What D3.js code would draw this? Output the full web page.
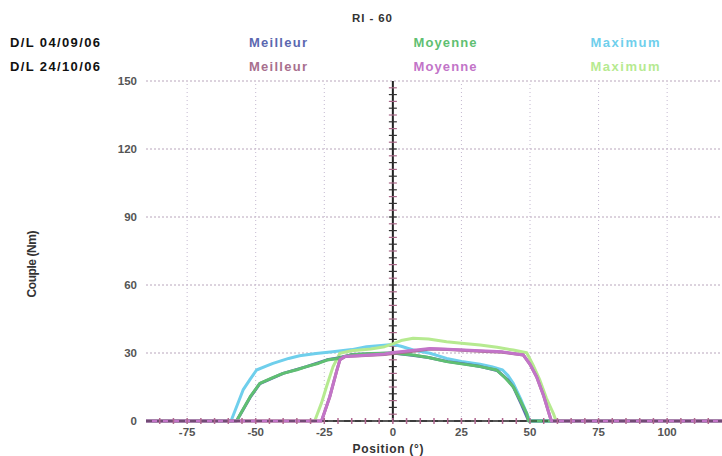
<!DOCTYPE html>
<html><head><meta charset="utf-8">
<script src="https://cdn.jsdelivr.net/npm/d3@7/dist/d3.min.js"></script>
<style>body{margin:0;background:#fff}svg{font-family:"Liberation Sans",Arial,sans-serif;font-weight:bold}</style>
</head><body><svg id="c" width="722" height="456"></svg>
<script>
const title = "RI - 60";
const sessions = ["D/L 04/09/06", "D/L 24/10/06"];
const seriesNames = ["Meilleur", "Moyenne", "Maximum"];
const xTicks = [-75, -50, -25, 0, 25, 50, 75, 100];
const yTicks = [0, 30, 60, 90, 120, 150];

// Session 1 (04/09/06)
const best1 = [[-90,0],[-57,0],[-52,10.5],[-48.5,16.5],[-40,21],[-31.5,24],[-24,27],[-20,27.8],[-15,29.3],[-5,29.8],[0,30],[7,29],[13,28],[20,26.2],[26,25.2],[32,24],[38,22.3],[42,18],[44,14.8],[47,7],[49.5,0],[120,0]];
const avg1 = [[-90,0],[-57,0],[-52,10.7],[-48.5,16.6],[-44,19],[-40,21],[-35,22.6],[-31.5,24],[-27,25.5],[-24,26.9],[-20,27.6],[-15,29.2],[-8,29.8],[0,30],[7.4,29.1],[13,28],[19.6,26.2],[25,25.2],[31.8,24],[37.8,22.5],[41,19],[43.9,15.1],[46.5,9],[48.8,3.4],[49.5,0],[120,0]];
const max1 = [[-90,0],[-59,0],[-54.6,13.7],[-52,18.5],[-49.7,22.5],[-46,24.3],[-43.7,25.4],[-38,27.6],[-34,28.8],[-28,29.8],[-21.9,30.6],[-15,31.5],[-9.6,32.8],[0,33.8],[3,33],[7.4,31.3],[13.5,29.9],[19.6,27.6],[25,26.3],[31.8,25],[36,24],[40,22.5],[42,20],[43.9,16.6],[46.5,10],[48.8,3.4],[50,0],[120,0]];
// Session 2 (24/10/06)
const best2 = [[-90,0],[-26,0],[-23,10.7],[-20.5,22],[-19.3,27],[-17.5,28.4],[-10,28.9],[-3,29.3],[0,29.8],[6,30.6],[13.5,31.8],[20,31.5],[31.8,30.8],[40,30.3],[47.6,29.1],[50,25],[52.4,19.5],[55,11],[57.3,1.9],[57.8,0],[120,0]];
const avg2 = [[-90,0],[-26,0],[-23,10.7],[-20.5,22],[-19.3,27],[-17.5,28.5],[-10,29],[-3,29.6],[0,30.2],[6,31],[13.5,32],[20,31.7],[31.8,31],[40,30.5],[47.6,29.1],[50,25],[52.4,19.5],[55,11],[57.3,1.9],[57.8,0],[120,0]];
const max2 = [[-90,0],[-28.5,0],[-26,8],[-24.2,15.1],[-21.8,24],[-19.3,29.9],[-15,31],[-8,31.8],[-3,32.8],[0,34],[3,35.5],[7.4,36.5],[13,36.2],[19.6,35],[25,34.3],[31.8,33.5],[38,32.5],[43.9,31.3],[48.8,30.1],[51,25],[53.6,18],[56,10],[58.5,3.4],[59.5,0],[120,0]];

const colors1 = ["#5b68b0", "#5fbf72", "#6fcfec"];
const colors2 = ["#a8708e", "#c274c8", "#b6ea90"];

const svg = d3.select("#c");
const x = d3.scaleLinear().domain([-90, 120]).range([146, 722]);
const y = d3.scaleLinear().domain([0, 150]).range([421, 81]);

// Grid
svg.append("g").selectAll("line").data(yTicks.filter(d => d > 0)).join("line")
  .attr("x1", x(-90)).attr("x2", x(120)).attr("y1", d => y(d)).attr("y2", d => y(d))
  .attr("stroke", "#b9a6bc").attr("stroke-width", 1).attr("stroke-dasharray", "2,2");
svg.append("g").selectAll("line").data(xTicks.filter(d => d !== 0)).join("line")
  .attr("x1", d => x(d)).attr("x2", d => x(d)).attr("y1", y(0)).attr("y2", y(150))
  .attr("stroke", "#c4b8d0").attr("stroke-width", 1).attr("stroke-dasharray", "1,3");

// Axes lines
svg.append("line").attr("x1", x(-90)).attr("x2", x(120)).attr("y1", y(0)).attr("y2", y(0)).attr("stroke", "#222").attr("stroke-width", 1.5);
svg.append("line").attr("x1", x(0)).attr("x2", x(0)).attr("y1", y(0)).attr("y2", y(150)).attr("stroke", "#222").attr("stroke-width", 2);

// minor ticks on vertical axis
svg.append("g").selectAll("line").data(d3.range(3, 150, 3)).join("line")
  .attr("x1", x(0) - 4).attr("x2", x(0) + 4).attr("y1", d => y(d)).attr("y2", d => y(d))
  .attr("stroke", (d, i) => i % 2 ? "#333" : "#a86888").attr("stroke-width", 1.2);

// Lines
const line = d3.line().x(d => x(d[0])).y(d => y(d[1]));
const all = [[best1, colors1[0]], [avg1, colors1[1]], [max1, colors1[2]], [best2, colors2[0]], [avg2, colors2[1]], [max2, colors2[2]]];
const order = [2, 5, 0, 1, 3, 4];
svg.append("g").selectAll("path").data(order.map(i => all[i])).join("path")
  .attr("d", d => line(d[0])).attr("fill", "none").attr("stroke", d => d[1])
  .attr("stroke-width", 3).attr("stroke-linejoin", "round");

// axis baseline on top
svg.append("line").attr("x1", x(-90)).attr("x2", x(120)).attr("y1", y(0)).attr("y2", y(0)).attr("stroke", "#222").attr("stroke-width", 1.2).attr("stroke-dasharray", "6,5");
svg.append("g").selectAll("line").data(d3.range(-85, 120, 5)).join("line")
  .attr("x1", d => x(d)).attr("x2", d => x(d)).attr("y1", y(0) - 3).attr("y2", y(0) + 3)
  .attr("stroke", "#b06890").attr("stroke-width", 1.5);

// Tick labels
svg.append("g").selectAll("text").data(yTicks).join("text")
  .attr("x", 137).attr("y", d => y(d) + 4).attr("text-anchor", "end")
  .attr("font-size", 11.5).attr("fill", "#555").text(d => d);
svg.append("g").selectAll("text").data(xTicks).join("text")
  .attr("x", d => x(d)).attr("y", 436).attr("text-anchor", "middle")
  .attr("font-size", 11.5).attr("fill", "#555").text(d => d);

// Axis titles
svg.append("text").attr("x", 388).attr("y", 453).attr("text-anchor", "middle").attr("font-size", 12)
  .attr("textLength", 71).attr("fill", "#333").text("Position (°)");
svg.append("text").attr("transform", "translate(36,264) rotate(-90)").attr("text-anchor", "middle").attr("font-size", 12)
  .attr("textLength", 67).attr("fill", "#333").text("Couple (Nm)");

// Header
svg.append("text").attr("x", 372).attr("y", 22).attr("text-anchor", "middle").attr("font-size", 11.5)
  .attr("textLength", 40).attr("fill", "#333").text(title);
svg.append("g").selectAll("text").data(sessions).join("text")
  .attr("x", 10).attr("y", (d, i) => 47 + i * 24).attr("font-size", 13)
  .attr("textLength", 90).attr("fill", "#111").text(d => d);
const legX = [278, 445, 625];
const legW = [58, 63, 69];
svg.append("g").selectAll("text").data(seriesNames).join("text")
  .attr("x", (d, i) => legX[i] - legW[i] / 2).attr("y", 47).attr("font-size", 13)
  .attr("textLength", (d, i) => legW[i]).attr("fill", (d, i) => colors1[i]).text(d => d);
svg.append("g").selectAll("text").data(seriesNames).join("text")
  .attr("x", (d, i) => legX[i] - legW[i] / 2).attr("y", 71).attr("font-size", 13)
  .attr("textLength", (d, i) => legW[i]).attr("fill", (d, i) => colors2[i]).text(d => d);
</script></body></html>
